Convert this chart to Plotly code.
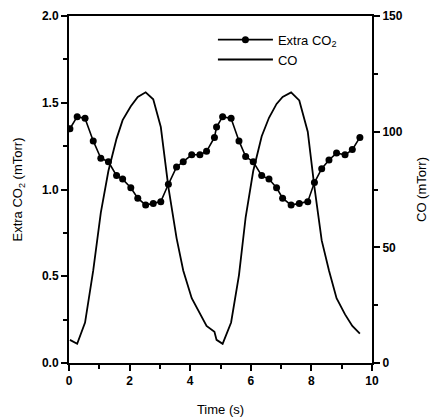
import plotly.graph_objects as go

# Sample times (s)
time_s = [0.03, 0.27, 0.53, 0.80, 1.05, 1.30, 1.57, 1.77, 2.04, 2.27,
          2.53, 2.78, 3.03, 3.28, 3.55, 3.77, 4.05, 4.32, 4.54, 4.80,
          4.87, 5.07, 5.35, 5.61, 5.83, 6.08, 6.36, 6.60, 6.85, 7.05,
          7.33, 7.60, 7.88, 8.10, 8.34, 8.58, 8.83, 9.11, 9.35, 9.60]

# Extra CO2 partial pressure (mTorr), left axis
extra_co2 = [1.35, 1.42, 1.41, 1.28, 1.18, 1.16, 1.08, 1.06, 1.01, 0.95,
             0.91, 0.92, 0.93, 1.03, 1.13, 1.16, 1.20, 1.20, 1.22, 1.30,
             1.36, 1.42, 1.41, 1.28, 1.19, 1.16, 1.08, 1.06, 1.01, 0.95,
             0.91, 0.92, 0.93, 1.04, 1.12, 1.17, 1.21, 1.20, 1.23, 1.30]

# CO partial pressure (mTorr), right axis
co = [10, 8.3, 17.5, 40, 65, 83, 97, 105, 111, 115,
      117, 114, 102, 76, 54, 40, 28, 21, 16, 13.5,
      10, 8.3, 17.5, 38, 63, 83, 98, 106, 112, 115,
      117, 113.5, 100, 76, 53, 40, 28, 21, 16, 12.7]

FONT = "Liberation Sans, Arial, Helvetica, sans-serif"

fig = go.Figure()
fig.add_trace(go.Scatter(
    x=time_s, y=extra_co2, name="Extra CO<sub>2</sub>",
    mode="lines+markers",
    line=dict(color="black", width=1.6),
    marker=dict(color="black", size=7, symbol="circle"),
    yaxis="y",
))
fig.add_trace(go.Scatter(
    x=time_s, y=co, name="CO",
    mode="lines",
    line=dict(color="black", width=1.8),
    yaxis="y2",
))

axis_common = dict(
    showgrid=False, zeroline=False, automargin=False,
    showline=True, linecolor="black", linewidth=2,
    ticks="outside", ticklen=6, tickwidth=2, tickcolor="black",
    tickfont=dict(family=FONT, size=12, color="black", weight="bold"),
)
minor_style = dict(ticks="outside", ticklen=4, tickwidth=2, tickcolor="black")

fig.update_layout(
    width=435, height=417,
    margin=dict(l=69, r=63, t=16, b=54),
    paper_bgcolor="white", plot_bgcolor="white",
    font=dict(family=FONT, color="black"),
    showlegend=True,
    legend=dict(
        x=0.475, y=0.975, xanchor="left", yanchor="top",
        bgcolor="rgba(0,0,0,0)", borderwidth=0,
        font=dict(family=FONT, size=13, color="black"),
        itemwidth=55, tracegroupgap=0,
    ),
    xaxis=dict(
        **axis_common,
        range=[0, 10], tickvals=[0, 2, 4, 6, 8, 10],
        mirror=True,
        minor=dict(tickvals=[1, 3, 5, 7, 9], **minor_style),
        title=dict(text="Time (s)", font=dict(family=FONT, size=13), standoff=20),
    ),
    yaxis=dict(
        **axis_common,
        range=[0, 2], tickvals=[0, 0.5, 1.0, 1.5, 2.0], tickformat=".1f",
        minor=dict(tickvals=[0.25, 0.75, 1.25, 1.75], **minor_style),
        title=dict(text="Extra CO<sub>2</sub> (mTorr)", font=dict(family=FONT, size=13), standoff=16),
    ),
    yaxis2=dict(
        **axis_common,
        overlaying="y", side="right", anchor="x",
        range=[0, 150], tickvals=[0, 50, 100, 150],
        minor=dict(tickvals=[25, 75, 125], **minor_style),
        title=dict(text="CO (mTorr)", font=dict(family=FONT, size=13), standoff=15),
    ),
)

fig.write_html("out.html")
